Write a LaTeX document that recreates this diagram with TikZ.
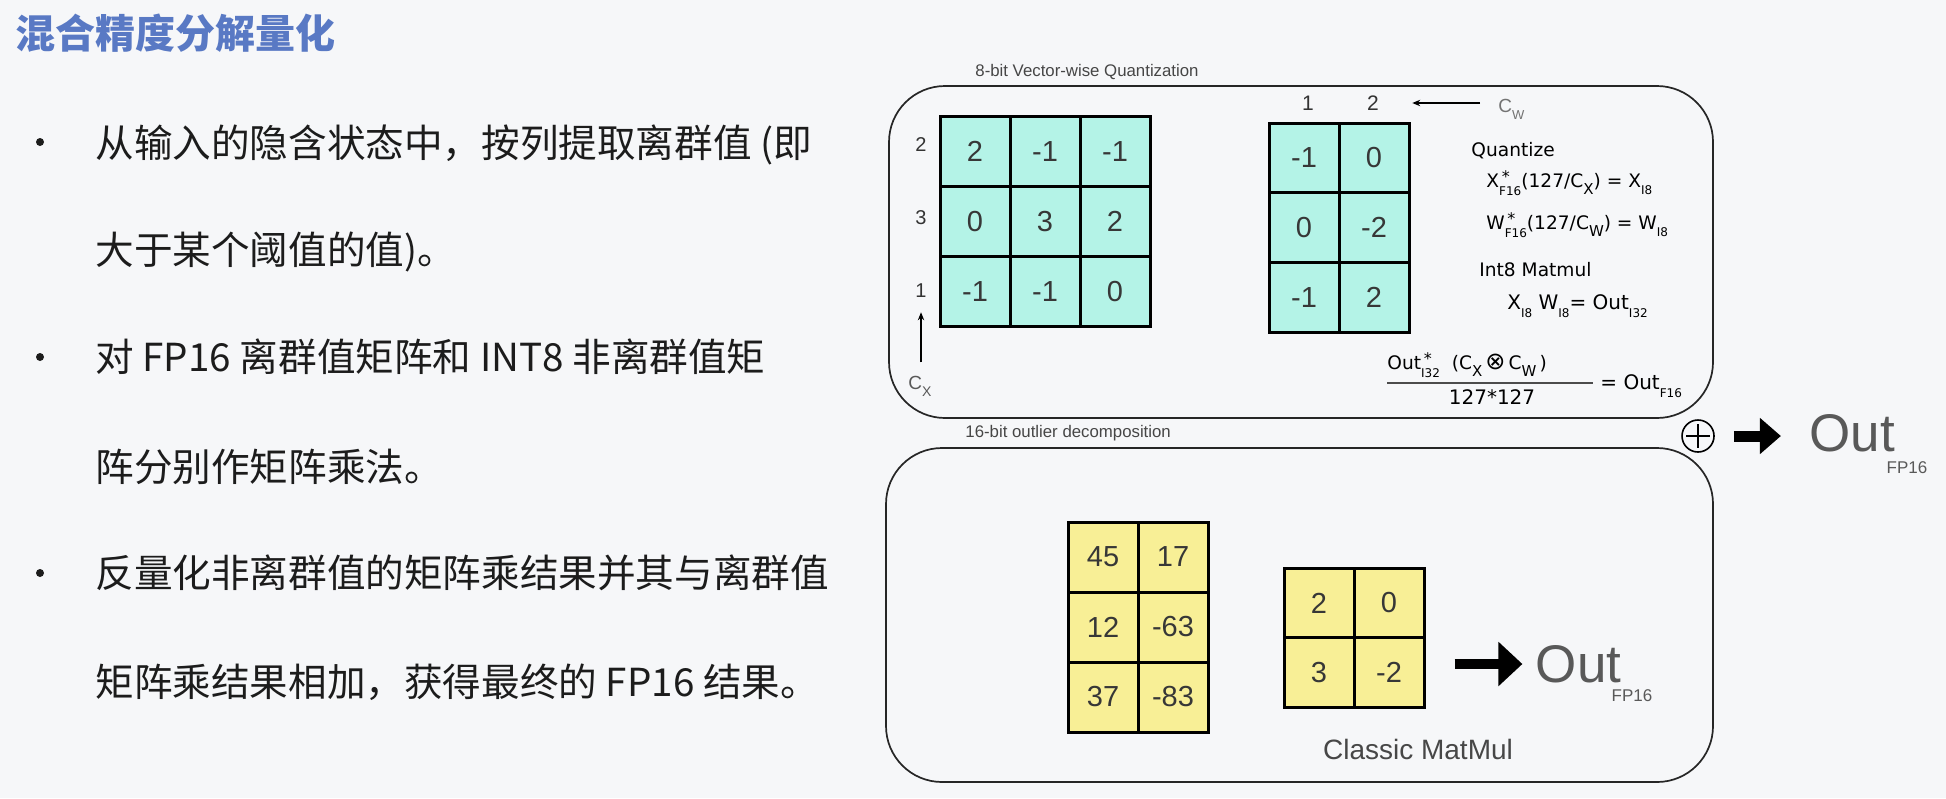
\documentclass[tikz,border=0pt]{standalone}
\usepackage{fontspec}
\setmainfont{Liberation Sans}
\newfontfamily\cjk{Noto Sans CJK SC}
\newfontfamily\dejavu{DejaVu Sans}
\usetikzlibrary{arrows.meta}

\definecolor{pagebg}{RGB}{246,247,249}
\definecolor{titleblue}{RGB}{89,121,196}
\definecolor{bodytext}{RGB}{28,28,28}
\definecolor{cellcyan}{RGB}{180,243,231}
\definecolor{cellyellow}{RGB}{248,239,150}
\definecolor{numgray}{RGB}{55,55,55}
\definecolor{labelgray}{RGB}{70,70,70}

% font size shorthand
\newcommand\fs[1]{\fontsize{#1}{#1}\selectfont}
% lowered subscript
\newcommand\lo[2][6]{\raisebox{-0.75ex}{\fs{#1}#2}}
% star stacked over a lowered subscript
\newcommand\stk[2]{\makebox[0pt][l]{\raisebox{0.45ex}{\fs{8}\,#1}}\raisebox{-0.8ex}{\fs{6}#2}}

\begin{document}
\begin{tikzpicture}[x=0.5pt,y=-0.5pt,
  bodyline/.style={anchor=base west, inner sep=0, font=\cjk\fs{19.3}, text=bodytext},
  bulletdot/.style={circle, fill=bodytext, inner sep=0, minimum size=4pt},
  cyancell/.style={draw=black, line width=1.5pt, fill=cellcyan, minimum width=35pt,
    minimum height=35pt, inner sep=0, font=\fs{14.5}, text=numgray},
  yellowcell/.style={cyancell, fill=cellyellow},
  panel/.style={draw=black!85, line width=0.85pt, rounded corners=28pt},
  panelname/.style={anchor=west, inner sep=0, font=\fs{8.4}, text=labelgray},
  idx/.style={inner sep=0, font=\fs{10}, text=black!80},
  scalelbl/.style={anchor=base west, inner sep=0, font=\fs{9.5}, text=black!65},
  formula/.style={anchor=base west, inner sep=0, font=\dejavu\fs{9.3}, text=black},
  outtext/.style={inner sep=0, font=\fs{26.5}, text=black!65},
  outsub/.style={inner sep=0, font=\fs{8.5}, text=black!65},
  thinarrow/.style={-{Stealth[length=4pt,width=3.2pt]}, line width=0.6pt},
  bigarrow/.style={line width=5.5pt, -{Triangle[length=10.5pt,width=17.5pt]}},
  bigarrowlow/.style={line width=5pt, -{Triangle[length=12pt,width=21.5pt]}}]

\fill[pagebg] (0,0) rectangle (1946,798);
\useasboundingbox (0,0) rectangle (1946,798);

% ---------- title and bullet list ----------
\node[anchor=west, inner sep=0, font=\cjk\bfseries\fs{20}, text=titleblue] (title) at (15,33) {混合精度分解量化};

\node[bulletdot] (b1) at (40,142) {};
\node[bulletdot] (b2) at (40,357) {};
\node[bulletdot] (b3) at (40,573) {};

\node[bodyline] (l1) at (95,157) {从输入的隐含状态中，按列提取离群值 (即};
\node[bodyline] (l2) at (95,264) {大于某个阈值的值)。};
\node[bodyline] (l3) at (95,371) {对 FP16 离群值矩阵和 INT8 非离群值矩};
\node[bodyline] (l4) at (95,481) {阵分别作矩阵乘法。};
\node[bodyline] (l5) at (95,587) {反量化非离群值的矩阵乘结果并其与离群值};
\node[bodyline] (l6) at (95,696) {矩阵乘结果相加，获得最终的 FP16 结果。};

% ---------- panels ----------
\draw[panel] (889,86) rectangle (1713,418);
\draw[panel] (886,448) rectangle (1713,782);
\node[panelname] (qname) at (975,72) {8-bit Vector-wise Quantization};
\node[panelname] (oname) at (965,433) {16-bit outlier decomposition};

% ---------- 8-bit part: X (3x3) and W (3x2) ----------
\foreach \r/\c/\v in {1/1/2, 1/2/-1, 1/3/-1, 2/1/0, 2/2/3, 2/3/2, 3/1/-1, 3/2/-1, 3/3/0}
  \node[cyancell] (x\r\c) at ({905+70*\c},{82+69.7*\r}) {\v};
\foreach \r/\c/\v in {1/1/-1, 1/2/0, 2/1/0, 2/2/-2, 3/1/-1, 3/2/2}
  \node[cyancell] (w\r\c) at ({1234+70*\c},{88.3+69.7*\r}) {\v};

% row scales of X
\node[idx] (rl2) at (921,145) {2};
\node[idx] (rl3) at (921,218) {3};
\node[idx] (rl1) at (921,291) {1};
\node[scalelbl] (cx) at (908,389) {C\lo[7]{X}};
\draw[thinarrow, shorten <=6.5pt, shorten >=7pt] (cx.north -| rl1.south) -- (rl1.south);

% column scales of W
\node[idx, font=\fs{10.5}] (cl1) at (1308,103) {1};
\node[idx, font=\fs{10.5}] (cl2) at (1373,103) {2};
\node[scalelbl, text=black!55] (cw) at (1498,112) {C\lo[6.5]{W}};
\draw[thinarrow, shorten <=9pt, shorten >=16.5pt] (cl2.east -| cw.west) -- (cl2.east);

% quantization formulas
\node[formula] (fq) at (1471,156) {Quantize};
\node[formula] (fx) at (1486,187) {X\stk{*}{F16}(127/C\lo[7.5]{X}) = X\lo{I8}};
\node[formula] (fw) at (1486,229) {W\stk{*}{F16}(127/C\lo[7.5]{W}) = W\lo{I8}};
\node[formula] (fi) at (1479,276) {Int8 Matmul};
\node[formula, font=\dejavu\fs{10}] (fm) at (1507,309) {X\lo{I8} W\lo{I8}= Out\lo{I32}};
\node[formula] (fn) at (1387,369) {Out\stk{*}{I32}\ \ (C\lo[7.5]{X}\,{\fs{12}⊗}\,C\lo[7.5]{W}\,)};
\coordinate (fracl) at (1387,383);
\coordinate (fracr) at (1593,383);
\draw[line width=0.6pt, black!70] (fracl) -- (fracr);
\node[inner sep=0, font=\dejavu\fs{10}] (fd) at (1492,397) {127*127};
\node[formula, font=\dejavu\fs{10}] (fr) at (1600,389) {= Out\lo{F16}};

% ---------- 16-bit part: outlier columns ----------
\foreach \r/\c/\v in {1/1/45, 1/2/17, 2/1/12, 2/2/-63, 3/1/37, 3/2/-83}
  \node[yellowcell] (y\r\c) at ({1033+70*\c},{487+70*\r}) {\v};
\foreach \r/\c/\v in {1/1/2, 1/2/0, 2/1/3, 2/2/-2}
  \node[yellowcell, minimum height=34.75pt] (v\r\c) at ({1249+70*\c},{533.5+69.5*\r}) {\v};
\node[inner sep=0, font=\fs{14}, text=black!72] (classic) at (1418,749) {Classic MatMul};

\node[outtext] (outbot) at (1578.5,664) {Out};
\node[outsub] (fpbot) at (1632,696) {FP16};
\draw[bigarrowlow, shorten <=14.5pt, shorten >=6.5pt] (outbot.west -| v22.east) -- (outbot.west);

% ---------- sum of both parts ----------
\node[circle, draw=black, line width=0.8pt, minimum size=16pt, inner sep=0] (plus) at (1698,436) {};
\draw[line width=0.8pt, shorten <=2.5pt, shorten >=2.5pt] (plus.north) -- (plus.south);
\draw[line width=0.8pt, shorten <=2.5pt, shorten >=2.5pt] (plus.west) -- (plus.east);
\node[outtext] (outtop) at (1852,433) {Out};
\node[outsub] (fptop) at (1907,468) {FP16};
\draw[bigarrow, shorten <=9.5pt, shorten >=14pt] (plus.east) -- (plus.east -| outtop.west);

\end{tikzpicture}
\end{document}
